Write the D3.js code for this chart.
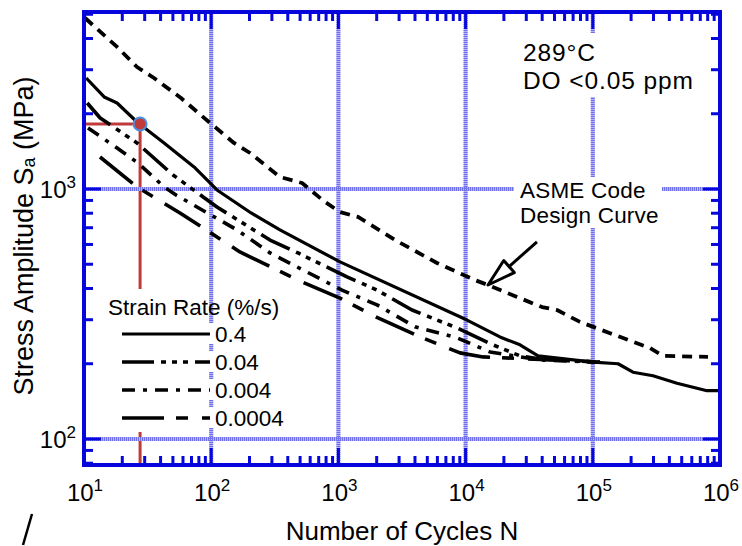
<!DOCTYPE html>
<html>
<head>
<meta charset="utf-8">
<script src="https://cdn.jsdelivr.net/npm/d3@7"></script>
<style>
  body { margin: 0; background: #fff; }
  svg text { font-family: "Liberation Sans", Arial, sans-serif; fill: #000; }
</style>
</head>
<body>
<svg id="chart" width="742" height="546"></svg>
<script>
// strain rates (%/s) shown in the legend
const rates = ["0.4", "0.04", "0.004", "0.0004"];

// cycles N and stress amplitude Sa (MPa)
const n04 = [10.4, 14.4, 18.2, 26.1, 42.6, 73.3, 111, 206, 347, 1030, 10260, 18620, 26770, 37100, 100500, 157900, 207000, 297300, 459000, 790000, 964000];
const s04 = [2780, 2334, 2208, 1854, 1528, 1225, 991, 802, 686, 511, 299, 256, 238, 215, 203, 200, 185, 179, 167, 156, 156];

const n004 = [10.6, 13.4, 26.1, 50.1, 111, 290, 481, 1168, 2012, 3790, 8560, 16420, 26780, 38450, 113900];
const s004 = [2208, 1923, 1528, 1138, 847, 625, 555, 445, 394, 328, 278, 238, 215, 209, 203];

const n0004 = [10.75, 18.2, 26.6, 42.6, 52.9, 159.5, 290, 473, 1067, 2012, 4001, 8560, 15550, 38450, 113900];
const s0004 = [1754, 1459, 1271, 1019, 946, 686, 555, 488, 394, 344, 281, 254, 223, 207, 203];

const n00004 = [13.36, 26.1, 56.8, 111, 168, 481, 1029, 2048, 4380, 9036, 13700, 113900];
const s00004 = [1343, 1019, 802, 643, 560, 432, 366, 305, 256, 221, 213, 203];

// ASME code design curve
const asmeN = [10.2, 18.2, 26.1, 35.5, 57.9, 96, 151, 202, 347, 518, 785, 1030, 1427, 2786, 5960, 11860, 15000, 25360, 39900, 52360, 79300, 136500, 281600, 356700, 805000];
const asmeS = [4830, 3700, 3076, 2780, 2312, 1854, 1528, 1393, 1117, 1057, 887, 809, 773, 625, 506, 432, 413, 370, 337, 328, 294, 265, 231, 215, 213];

// marked point and arrow (tip, tail)
const markN = 27.6, markS = 1820;
const arrowN = [15000, 36400], arrowS = [413, 614];

const xDecades = [1, 2, 3, 4, 5, 6];
const yDecades = [2, 3];

const width = 742, height = 546;
const margin = { top: 12, right: 22, bottom: 81, left: 84 };
const blue = "#0606dc";
const red = "#c0393b";

const x = d3.scaleLog().domain([10, 1e6]).range([margin.left, width - margin.right]);
const y = d3.scaleLog().domain([78.7, 5105]).range([height - margin.bottom, margin.top]);

const svg = d3.select("#chart");

// red guide lines to the marked point
svg.append("line")
    .attr("x1", x.range()[0]).attr("x2", x(markN))
    .attr("y1", y(markS)).attr("y2", y(markS))
    .attr("stroke", red).attr("stroke-width", 3);
svg.append("line")
    .attr("x1", x(markN)).attr("x2", x(markN))
    .attr("y1", y(markS)).attr("y2", y.range()[0])
    .attr("stroke", red).attr("stroke-width", 3);

// legend background hides the guide line
svg.append("rect")
    .attr("x", 104).attr("y", 289).attr("width", 196).attr("height", 143)
    .attr("fill", "#fff");

// grid at the decades: pale band with a hatched look
function gridLines(g) {
  g.selectAll(".gx").data(xDecades.slice(1, -1)).join("line")
      .attr("x1", d => x(10 ** d)).attr("x2", d => x(10 ** d))
      .attr("y1", y.range()[1]).attr("y2", y.range()[0]);
  g.selectAll(".gy").data(yDecades).join("line")
      .attr("y1", d => y(10 ** d)).attr("y2", d => y(10 ** d))
      .attr("x1", x.range()[0]).attr("x2", x.range()[1]);
}
svg.append("g").attr("stroke", "#b4b4f6").attr("stroke-width", 4).call(gridLines);
svg.append("g").attr("stroke", "#7070ec").attr("stroke-width", 4)
    .attr("stroke-dasharray", "1,1").call(gridLines);

// white boxes behind the annotations
svg.append("rect").attr("x", 515).attr("y", 33).attr("width", 190).attr("height", 64).attr("fill", "#fff");
svg.append("rect").attr("x", 514).attr("y", 177).attr("width", 148).attr("height", 51).attr("fill", "#fff");

// curves
const series = [
  { key: "asme", n: asmeN, s: asmeS, dash: "10,7", w: 3.8 },
  { key: rates[0], n: n04, s: s04, dash: null, w: 3.2 },
  { key: rates[1], n: n004, s: s004, dash: "32,7,5,6,5,6,5,7", w: 3.6 },
  { key: rates[2], n: n0004, s: s0004, dash: "13,8,4,8", w: 3.6 },
  { key: rates[3], n: n00004, s: s00004, dash: "42,12,12,14", w: 3.6 }
];

const line = d3.line().x(d => x(d[0])).y(d => y(d[1]));

svg.append("g").selectAll("path").data(series).join("path")
    .attr("d", d => line(d3.zip(d.n, d.s)))
    .attr("fill", "none")
    .attr("stroke", "#000")
    .attr("stroke-width", d => d.w)
    .attr("stroke-dasharray", d => d.dash)
    .attr("stroke-linejoin", "round");

// marker
svg.append("circle")
    .attr("cx", x(markN)).attr("cy", y(markS)).attr("r", 6.5)
    .attr("fill", red).attr("stroke", "#4a8fe0").attr("stroke-width", 2);

// arrow to the design curve
const tip = [x(arrowN[0]), y(arrowS[0])], tail = [x(arrowN[1]), y(arrowS[1])];
const len = Math.hypot(tail[0] - tip[0], tail[1] - tip[1]);
const ux = (tail[0] - tip[0]) / len, uy = (tail[1] - tip[1]) / len;
const bx = tip[0] + ux * 28, by = tip[1] + uy * 28;
svg.append("line")
    .attr("x1", tail[0]).attr("y1", tail[1]).attr("x2", bx).attr("y2", by)
    .attr("stroke", "#000").attr("stroke-width", 3);
svg.append("path")
    .attr("d", `M${tip}L${bx - uy * 8},${by + ux * 8}L${bx + uy * 8},${by - ux * 8}Z`)
    .attr("fill", "#fff").attr("stroke", "#000").attr("stroke-width", 3)
    .attr("stroke-linejoin", "round");

// frame and inward ticks
const minorX = [];
xDecades.slice(0, -1).forEach(d => { for (let k = 2; k < 10; k++) minorX.push(k * 10 ** d); });
const minorY = [80, 90, 200, 300, 400, 500, 600, 700, 800, 900, 2000, 3000, 4000, 5000];
const majorX = xDecades.slice(1, -1).map(d => 10 ** d);
const majorY = yDecades.map(d => 10 ** d);

const tickG = svg.append("g").attr("stroke", blue).attr("stroke-width", 3);
const [x0, x1] = x.range(), [y0, y1] = y.range();
[[y0, -1], [y1, 1]].forEach(([yy, dir]) => {
  tickG.append("g").selectAll("line").data(minorX).join("line")
      .attr("x1", d => x(d)).attr("x2", d => x(d))
      .attr("y1", yy).attr("y2", yy + dir * 9);
  tickG.append("g").selectAll("line").data(majorX).join("line")
      .attr("x1", d => x(d)).attr("x2", d => x(d))
      .attr("y1", yy).attr("y2", yy + dir * 17);
});
[[x0, 1], [x1, -1]].forEach(([xx, dir]) => {
  tickG.append("g").selectAll("line").data(minorY).join("line")
      .attr("y1", d => y(d)).attr("y2", d => y(d))
      .attr("x1", xx).attr("x2", xx + dir * 9);
  tickG.append("g").selectAll("line").data(majorY).join("line")
      .attr("y1", d => y(d)).attr("y2", d => y(d))
      .attr("x1", xx).attr("x2", xx + dir * 17);
});
svg.append("rect")
    .attr("x", x0).attr("y", y1).attr("width", x1 - x0).attr("height", y0 - y1)
    .attr("fill", "none").attr("stroke", blue).attr("stroke-width", 4);

// tick labels with superscripts
svg.append("g").selectAll("text").data(xDecades).join("text")
    .attr("x", d => x(10 ** d) + 1).attr("y", 501)
    .attr("text-anchor", "middle")
    .style("font-size", "24px")
    .call(t => t.append("tspan").text("10"))
    .call(t => t.append("tspan").attr("dy", -10).style("font-size", "17px").text(d => d));
svg.append("g").selectAll("text").data(yDecades).join("text")
    .attr("x", 76).attr("y", d => y(10 ** d) + 9)
    .attr("text-anchor", "end")
    .style("font-size", "24px")
    .call(t => t.append("tspan").text("10"))
    .call(t => t.append("tspan").attr("dy", -10).style("font-size", "17px").text(d => d));

// axis titles
svg.append("text")
    .attr("x", 402).attr("y", 540)
    .attr("text-anchor", "middle")
    .style("font-size", "26px")
    .text("Number of Cycles N");
svg.append("text")
    .attr("transform", "translate(33,236) rotate(-90)")
    .attr("text-anchor", "middle")
    .style("font-size", "27px")
    .call(t => t.append("tspan").text("Stress Amplitude S"))
    .call(t => t.append("tspan").attr("dy", 2).style("font-size", "18px").text("a"))
    .call(t => t.append("tspan").attr("dy", -2).text(" (MPa)"));

// annotations, two lines each
function twoLines(xx, yy, size, gap, spacing, a, b) {
  const t = svg.append("text").attr("x", xx).attr("y", yy)
      .style("font-size", size).style("letter-spacing", spacing);
  t.append("tspan").attr("x", xx).text(a);
  t.append("tspan").attr("x", xx).attr("dy", gap).text(b);
}
twoLines(523, 61, "24.5px", 28, "0.9px", "289°C", "DO <0.05 ppm");
twoLines(520, 198, "22.5px", 25, "0.2px", "ASME Code", "Design Curve");

// legend
const legend = svg.append("g");
legend.append("text").attr("x", 108).attr("y", 315).style("font-size", "22.5px").text("Strain Rate (%/s)");
const rows = legend.selectAll(".row").data(series.slice(1)).join("g")
    .attr("transform", (d, i) => `translate(0,${334 + i * 28})`);
rows.append("rect").attr("x", 118).attr("y", -11).attr("width", 180).attr("height", 21).attr("fill", "#fff");
rows.append("line")
    .attr("x1", 122).attr("x2", 210)
    .attr("stroke", "#000").attr("stroke-width", d => d.w)
    .attr("stroke-dasharray", d => d.dash);
rows.append("text").attr("x", 215).attr("y", 8).style("font-size", "22.5px").text(d => d.key);

// stray pen mark at the lower left of the scan
svg.append("line")
    .attr("x1", 32).attr("y1", 514).attr("x2", 23).attr("y2", 545)
    .attr("stroke", "#000").attr("stroke-width", 2.5);
</script>
</body>
</html>
